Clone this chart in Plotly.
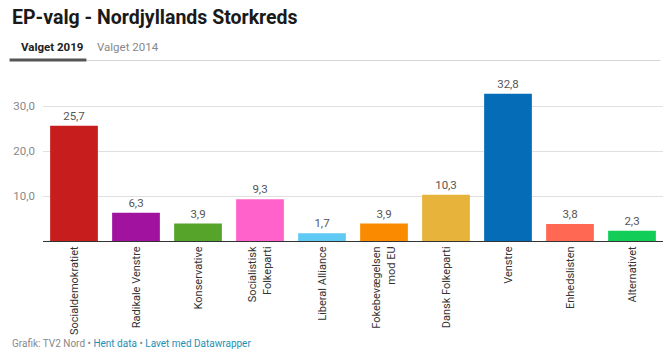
import plotly.graph_objects as go

categories = ["Socialdemokratiet", "Radikale Venstre", "Konservative",
              "Socialistisk<br>Folkeparti", "Liberal Alliance",
              "Fokebevægelsen<br>mod EU", "Dansk Folkeparti", "Venstre",
              "Enhedslisten", "Alternativet"]
values = [25.7, 6.3, 3.9, 9.3, 1.7, 3.9, 10.3, 32.8, 3.8, 2.3]
colors = ["#c71e1d", "#a1139f", "#56a42a", "#ff62cb", "#5fcaf4",
          "#fa8b00", "#e8b33b", "#056cb8", "#ff6954", "#13cd59"]
ytick_vals = [10, 20, 30]

W, H = 671, 357
fig = go.Figure(go.Bar(
    x=categories, y=values, marker=dict(color=colors, line=dict(width=0)),
    texttemplate="%{y:.1f}", textposition="outside", cliponaxis=False,
    textfont=dict(size=11.5, color="#555555", family="Roboto"),
    hoverinfo="skip"))

left, right, top, bottom = 42.5, W - 663.5, 83.5, H - 241
pw, ph = W - left - right, H - top - bottom


def px(x):
    return (x - left) / pw


def py(y):
    return 1 - (y - top) / ph


fig.update_layout(
    width=W, height=H, separators=",.",
    margin=dict(l=left, r=right, t=top, b=bottom, pad=0, autoexpand=False),
    paper_bgcolor="white", plot_bgcolor="white",
    font=dict(family="Roboto", color="#333333"),
    bargap=0.23, showlegend=False,
    xaxis=dict(tickangle=-90, tickfont=dict(size=11, color="#333333"),
               showline=True, linecolor="#333333", linewidth=1,
               ticks="", showgrid=False, fixedrange=True, automargin=False),
    yaxis=dict(range=[0, 35], tickvals=ytick_vals, tickformat=".1f",
               showgrid=True, gridcolor="#e0e0e0", gridwidth=1,
               zeroline=False, showline=False, ticks="",
               tickfont=dict(size=11.5, color="#888888"),
               ticklabelstandoff=7, fixedrange=True, automargin=False),
    shapes=[
        dict(type="line", xref="paper", yref="paper", x0=px(86), x1=px(661),
             y0=py(60), y1=py(60), line=dict(color="#d6d6d6", width=1)),
        dict(type="rect", xref="paper", yref="paper", x0=px(9), x1=px(86),
             y0=py(61), y1=py(58), line=dict(width=0), fillcolor="#555555"),
    ],
    annotations=[
        dict(text="<b>EP-valg - Nordjyllands Storkreds</b>", xref="paper", yref="paper",
             x=px(9), y=py(17), xanchor="left", yanchor="middle", showarrow=False,
             font=dict(size=19.5, color="#1a1a1a", family="Roboto")),
        dict(text="<b>Valget 2019</b>", xref="paper", yref="paper",
             x=px(18), y=py(46), xanchor="left", yanchor="middle", showarrow=False,
             font=dict(size=11.5, color="#222222", family="Roboto")),
        dict(text="Valget 2014", xref="paper", yref="paper",
             x=px(95), y=py(46), xanchor="left", yanchor="middle", showarrow=False,
             font=dict(size=11.5, color="#888888", family="Roboto")),
        dict(text="Grafik: TV2 Nord • <span style='color:#1d8fb5'>Hent data</span> • "
                  "<span style='color:#1d8fb5'>Lavet med Datawrapper</span>",
             xref="paper", yref="paper", x=px(9), y=py(344),
             xanchor="left", yanchor="middle", showarrow=False,
             font=dict(size=10, color="#888888", family="Roboto")),
    ],
)
fig.write_html("out.html", config={"displayModeBar": False},
               post_script="document.body.style.margin='0';document.body.style.overflow='hidden';")
